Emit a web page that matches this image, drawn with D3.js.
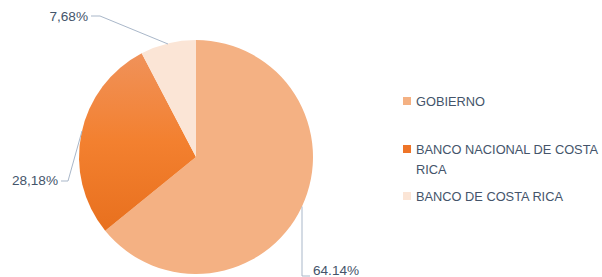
<!DOCTYPE html>
<html>
<head>
<meta charset="utf-8">
<script src="https://cdn.jsdelivr.net/npm/d3@7"></script>
<style>
  body { margin: 0; background: #fff; }
  text { font-family: "Liberation Sans", Arial, sans-serif; fill: #44546A; }
</style>
</head>
<body>
<div id="app"></div>
<script>
const categories = ['GOBIERNO', 'BANCO NACIONAL DE COSTA RICA', 'BANCO DE COSTA RICA']
const values = [64.14, 28.18, 7.68]
const labels = ['64.14%', '28,18%', '7,68%']
const legendLines = [['GOBIERNO'], ['BANCO NACIONAL DE COSTA', 'RICA'], ['BANCO DE COSTA RICA']]

const width = 602, height = 277
const cx = 196, cy = 157, r = 117

const svg = d3.select('#app')
  .append('svg')
  .attr('width', width)
  .attr('height', height)

// gradient on the middle slice
const grad = svg.append('defs').append('linearGradient')
  .attr('id', 'bncr')
  .attr('x1', 0).attr('y1', 0).attr('x2', 0).attr('y2', 1)
grad.append('stop').attr('offset', '0%').attr('stop-color', '#F0925A')
grad.append('stop').attr('offset', '50%').attr('stop-color', '#F3802F')
grad.append('stop').attr('offset', '100%').attr('stop-color', '#E8701E')

const color = d3.scaleOrdinal()
  .domain(categories)
  .range(['#F4B183', 'url(#bncr)', '#FBE5D6'])
const swatch = d3.scaleOrdinal()
  .domain(categories)
  .range(['#F4B183', '#EE7428', '#FBE5D6'])

const pie = d3.pie().sort(null).value(d => d.value)
const arc = d3.arc().innerRadius(0).outerRadius(r)

const data = categories.map((c, i) => ({ name: c, value: values[i], label: labels[i] }))

const g = svg.append('g').attr('transform', `translate(${cx}, ${cy})`)

g.selectAll('path')
  .data(pie(data))
  .enter().append('path')
  .attr('d', arc)
  .attr('fill', d => color(d.data.name))

// leader lines + labels
const labelPos = [
  { tx: 313, ty: 275, pts: [[302, cy + Math.sqrt(r * r - (302 - cx) * (302 - cx))], [302, 276], [310, 276]], anchor: 'start' },
  { tx: 58, ty: 185, pts: [[82, 131], [68, 181], [61, 181]], anchor: 'end' },
  { tx: 88, ty: 21, pts: [[168, 44], [100, 16], [91, 16]], anchor: 'end' }
]

const lineG = svg.append('g')
pie(data).forEach((d, i) => {
  const p = labelPos[i]
  lineG.append('path')
    .attr('d', d3.line()(p.pts))
    .attr('fill', 'none')
    .attr('stroke', '#A9B7C9')
    .attr('stroke-width', 1)
  lineG.append('text')
    .attr('x', p.tx)
    .attr('y', p.ty)
    .attr('text-anchor', p.anchor)
    .attr('font-size', 13.6)
    .text(d.data.label)
})

// legend
const legendTop = [101, 149, 196]
const legend = svg.append('g')
categories.forEach((c, i) => {
  const y = legendTop[i]
  legend.append('rect')
    .attr('x', 403).attr('y', y - 4)
    .attr('width', 8).attr('height', 8)
    .attr('fill', swatch(c))
  const t = legend.append('text')
    .attr('x', 416).attr('y', y + 5)
    .attr('font-size', 12.8)
  legendLines[i].forEach((ln, j) => {
    t.append('tspan').attr('x', 416).attr('dy', j === 0 ? 0 : 20).text(ln)
  })
})
</script>
</body>
</html>
